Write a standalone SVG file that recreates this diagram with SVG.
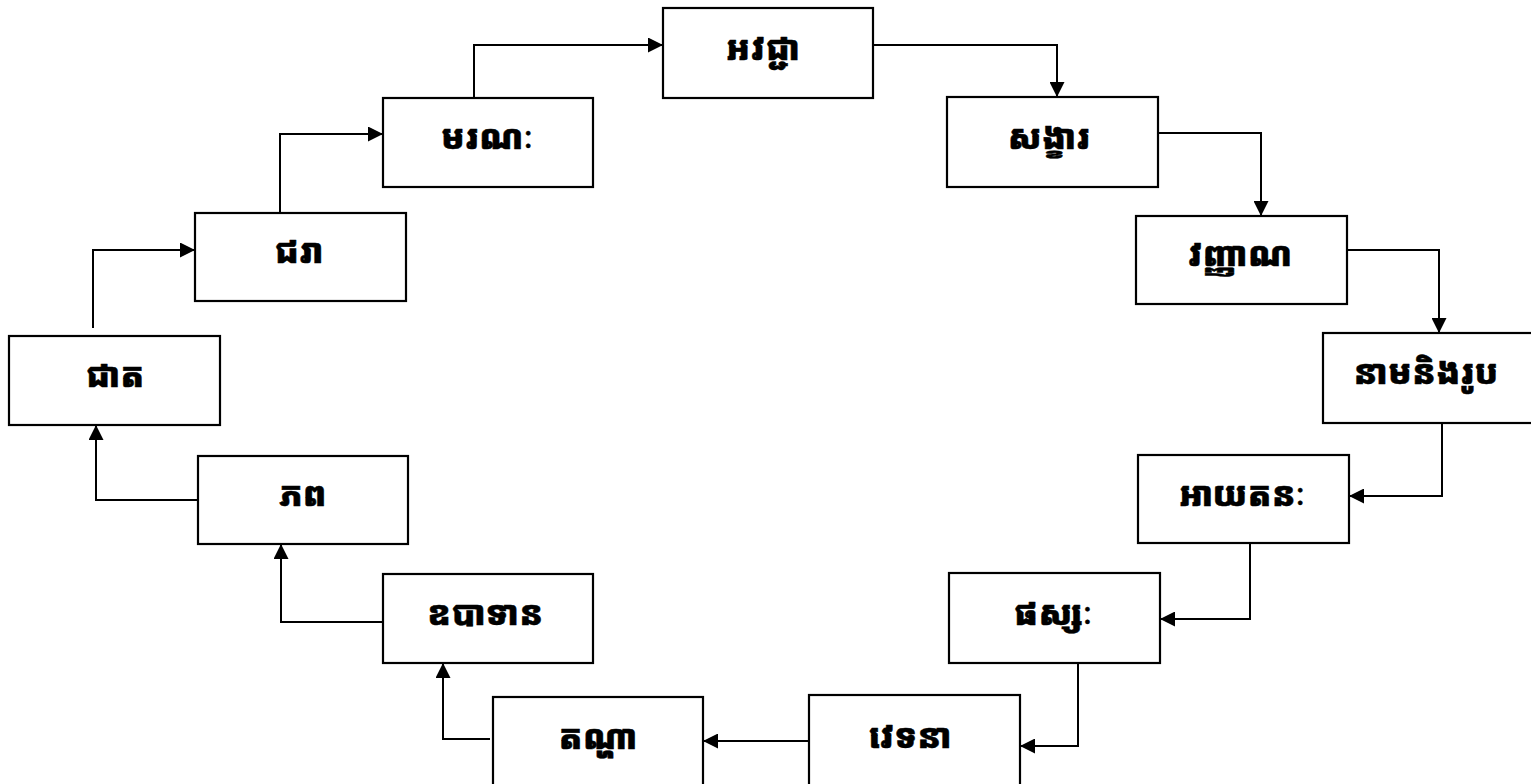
<svg xmlns="http://www.w3.org/2000/svg" width="1531" height="784" viewBox="0 0 1531 784">
<style>
.box{fill:#fff;stroke:#000;stroke-width:2.2}
.lbl{font-family:"Noto Sans Khmer","Noto Serif Khmer","Khmer OS","Khmer OS System","Hanuman","Battambang","Noto Sans",sans-serif;font-weight:900;font-size:34px;text-anchor:middle;fill:#000;stroke:#000;stroke-width:0.5;stroke-linejoin:round}
.con{fill:none;stroke:#000;stroke-width:2}
</style>
<defs>
<marker id="ah" viewBox="0 0 15 15" refX="15" refY="7.5" markerWidth="15" markerHeight="15" markerUnits="userSpaceOnUse" orient="auto">
<path d="M0,0 L15,7.5 L0,15 Z" fill="#000"/>
</marker>
</defs>
<rect width="1531" height="784" fill="#fff"/>
<g id="connectors">
<path class="con" d="M280,213 V134 H383" marker-end="url(#ah)"/>
<path class="con" d="M474,98 V45 H663" marker-end="url(#ah)"/>
<path class="con" d="M873,45 H1057 V97" marker-end="url(#ah)"/>
<path class="con" d="M1158,133 H1261 V216" marker-end="url(#ah)"/>
<path class="con" d="M1347,250 H1439 V333" marker-end="url(#ah)"/>
<path class="con" d="M1442,423 V496 H1349" marker-end="url(#ah)"/>
<path class="con" d="M1250,543 V619 H1160" marker-end="url(#ah)"/>
<path class="con" d="M1078,663 V746 H1020" marker-end="url(#ah)"/>
<path class="con" d="M809,741 H703" marker-end="url(#ah)"/>
<path class="con" d="M490,739 H443 V663" marker-end="url(#ah)"/>
<path class="con" d="M383,622 H281 V544" marker-end="url(#ah)"/>
<path class="con" d="M198,500 H96 V425" marker-end="url(#ah)"/>
<path class="con" d="M93,328 V250 H195" marker-end="url(#ah)"/>
</g>
<g id="n1"><rect class="box" x="663" y="8" width="210" height="90"/><text class="lbl" x="763" y="60">អវជ្ជា</text></g>
<g id="n2"><rect class="box" x="947" y="97" width="211" height="90"/><text class="lbl" x="1049" y="149">សង្ខារ</text></g>
<g id="n3"><rect class="box" x="1136" y="216" width="211" height="88"/><text class="lbl" x="1240" y="266">វញ្ញាណ</text></g>
<g id="n4"><rect class="box" x="1323" y="333" width="210" height="90"/><text class="lbl" x="1426" y="384">នាមនិងរូប</text></g>
<g id="n5"><rect class="box" x="1138" y="455" width="211" height="88"/><text class="lbl" x="1242" y="506">អាយតនៈ</text></g>
<g id="n6"><rect class="box" x="949" y="573" width="211" height="90"/><text class="lbl" x="1053" y="625">ផស្សៈ</text></g>
<g id="n7"><rect class="box" x="809" y="695" width="211" height="92"/><text class="lbl" x="910" y="748">វេទនា</text></g>
<g id="n8"><rect class="box" x="493" y="697" width="210" height="90"/><text class="lbl" x="598" y="749">តណ្ហា</text></g>
<g id="n9"><rect class="box" x="383" y="574" width="210" height="89"/><text class="lbl" x="485" y="625">ឧបាទាន</text></g>
<g id="n10"><rect class="box" x="198" y="456" width="210" height="88"/><text class="lbl" x="303" y="506">ភព</text></g>
<g id="n11"><rect class="box" x="9" y="336" width="211" height="89"/><text class="lbl" x="115" y="387">ជាត</text></g>
<g id="n12"><rect class="box" x="195" y="213" width="211" height="88"/><text class="lbl" x="299" y="263">ជរា</text></g>
<g id="n13"><rect class="box" x="383" y="98" width="210" height="89"/><text class="lbl" x="487" y="149">មរណៈ</text></g>
</svg>
